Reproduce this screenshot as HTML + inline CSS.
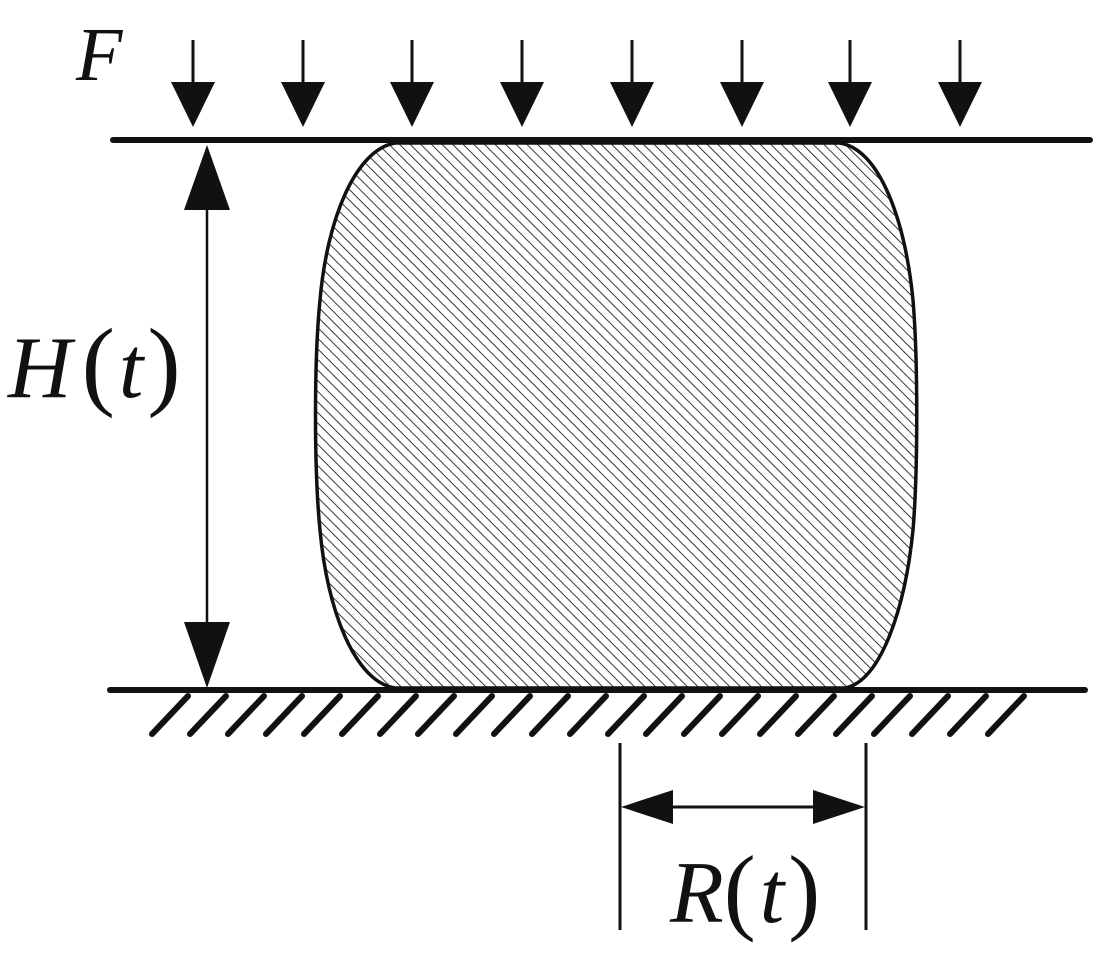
<!DOCTYPE html>
<html><head><meta charset="utf-8"><style>
html,body{margin:0;padding:0;background:#fff;}
svg{display:block;}
text{font-family:"Liberation Serif",serif;font-style:italic;fill:#111;}
</style></head><body>
<svg width="1105" height="966" viewBox="0 0 1105 966" xmlns="http://www.w3.org/2000/svg">
<defs>
<pattern id="h" patternUnits="userSpaceOnUse" width="7.5" height="7.5" patternTransform="rotate(-45)">
<line x1="0" y1="0" x2="0" y2="7.5" stroke="#222" stroke-width="1.8"/>
</pattern>
<clipPath id="c"><path d="M395,143 L840,143 C880,150 905,220 913,300 C918,360 918,470 913,530 C905,610 880,682 845,688 L395,688 C355,682 327,610 320,530 C314,470 314,360 320,300 C327,220 355,150 395,143 Z"/></clipPath>
</defs>
<rect x="300" y="140" width="630" height="550" fill="url(#h)" clip-path="url(#c)"/>
<path d="M395,143 L840,143 C880,150 905,220 913,300 C918,360 918,470 913,530 C905,610 880,682 845,688 L395,688 C355,682 327,610 320,530 C314,470 314,360 320,300 C327,220 355,150 395,143 Z" fill="none" stroke="#111" stroke-width="3.5"/>
<line x1="113" y1="140" x2="1090" y2="140" stroke="#111" stroke-width="6" stroke-linecap="round"/>
<line x1="110" y1="690" x2="1085" y2="690" stroke="#111" stroke-width="6" stroke-linecap="round"/>
<g stroke="#111" stroke-width="6" stroke-linecap="round">
<line x1="188" y1="696" x2="152" y2="734"/><line x1="226" y1="696" x2="190" y2="734"/><line x1="264" y1="696" x2="228" y2="734"/><line x1="302" y1="696" x2="266" y2="734"/><line x1="340" y1="696" x2="304" y2="734"/><line x1="378" y1="696" x2="342" y2="734"/><line x1="416" y1="696" x2="380" y2="734"/><line x1="454" y1="696" x2="418" y2="734"/><line x1="492" y1="696" x2="456" y2="734"/><line x1="530" y1="696" x2="494" y2="734"/><line x1="568" y1="696" x2="532" y2="734"/><line x1="606" y1="696" x2="570" y2="734"/><line x1="644" y1="696" x2="608" y2="734"/><line x1="682" y1="696" x2="646" y2="734"/><line x1="720" y1="696" x2="684" y2="734"/><line x1="758" y1="696" x2="722" y2="734"/><line x1="796" y1="696" x2="760" y2="734"/><line x1="834" y1="696" x2="798" y2="734"/><line x1="872" y1="696" x2="836" y2="734"/><line x1="910" y1="696" x2="874" y2="734"/><line x1="948" y1="696" x2="912" y2="734"/><line x1="986" y1="696" x2="950" y2="734"/><line x1="1024" y1="696" x2="988" y2="734"/>
</g>
<g stroke="#111" stroke-width="3">
<line x1="193" y1="40" x2="193" y2="100"/><line x1="303" y1="40" x2="303" y2="100"/><line x1="412" y1="40" x2="412" y2="100"/><line x1="522" y1="40" x2="522" y2="100"/><line x1="632" y1="40" x2="632" y2="100"/><line x1="742" y1="40" x2="742" y2="100"/><line x1="850" y1="40" x2="850" y2="100"/><line x1="960" y1="40" x2="960" y2="100"/>
</g>
<g fill="#111">
<polygon points="171,82 215,82 193,127"/><polygon points="281,82 325,82 303,127"/><polygon points="390,82 434,82 412,127"/><polygon points="500,82 544,82 522,127"/><polygon points="610,82 654,82 632,127"/><polygon points="720,82 764,82 742,127"/><polygon points="828,82 872,82 850,127"/><polygon points="938,82 982,82 960,127"/>
</g>
<line x1="207" y1="200" x2="207" y2="630" stroke="#111" stroke-width="2.5"/>
<polygon points="207,145 184,210 230,210" fill="#111"/>
<polygon points="207,688 184,622 230,622" fill="#111"/>
<line x1="620" y1="743" x2="620" y2="930" stroke="#111" stroke-width="3"/>
<line x1="866" y1="743" x2="866" y2="930" stroke="#111" stroke-width="3"/>
<line x1="670" y1="807" x2="815" y2="807" stroke="#111" stroke-width="3"/>
<polygon points="621,807 673,790 673,824" fill="#111"/>
<polygon points="865,807 813,790 813,824" fill="#111"/>
<text x="76" y="80" font-size="76">F</text>
<text x="8" y="397" font-size="88">H<tspan dx="10" font-style="normal" font-size="100">(</tspan><tspan dx="4">t</tspan><tspan dx="4" font-style="normal" font-size="100">)</tspan></text>
<text x="670" y="922" font-size="88">R<tspan font-style="normal" font-size="96">(</tspan><tspan dx="4">t</tspan><tspan dx="4" font-style="normal" font-size="96">)</tspan></text>
</svg>
</body></html>
